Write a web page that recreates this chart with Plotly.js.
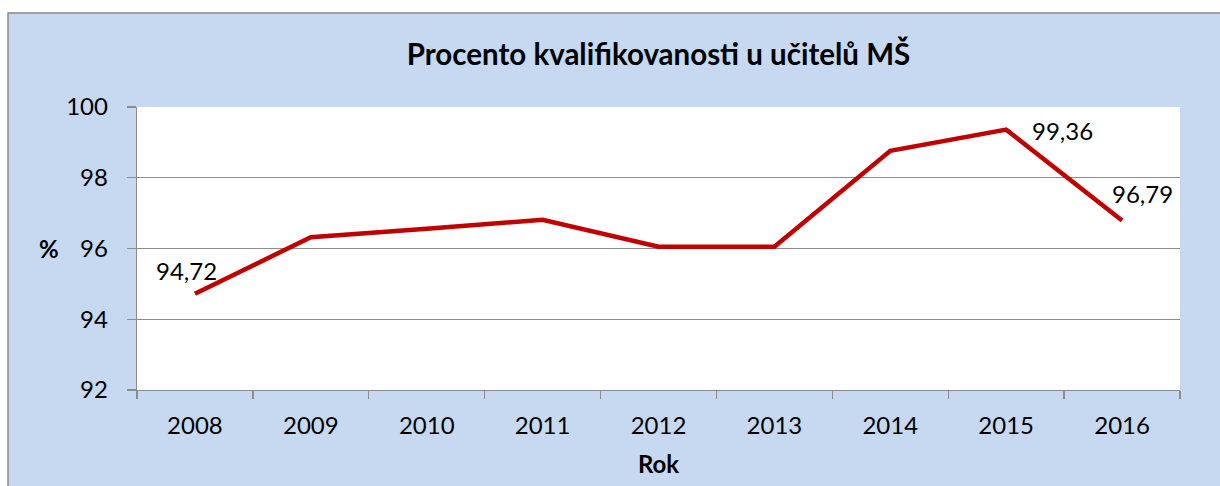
<!DOCTYPE html>
<html>
<head>
<meta charset="utf-8">
<script src="https://cdn.plot.ly/plotly-3.0.1.min.js"></script>
<style>
  html, body { margin: 0; padding: 0; background: #ffffff; }
  #chart { width: 1220px; height: 486px; }
</style>
</head>
<body>
<div id="chart"></div>
<script>
// ---- data ----
const years = ['2008', '2009', '2010', '2011', '2012', '2013', '2014', '2015', '2016'];
const values = [94.72, 96.32, 96.56, 96.81, 96.05, 96.05, 98.76, 99.36, 96.79];
const labeledYears = ['2008', '2015', '2016'];
const yTicks = [92, 94, 96, 98, 100];
const chartTitle = 'Procento kvalifikovanosti u učitelů MŠ';
const xTitle = 'Rok';
const yTitle = '%';

// ---- style ----
const FONT = 'Lato, "Open Sans", sans-serif';
const BLUE = '#C6D9F0';
const GRID = '#8C8C8C';
const TICK_SIZE = 24;
const labelOffsets = {
  '2008': {xshift: -8, yshift: 23, xanchor: 'center'},
  '2015': {xshift: 24, yshift: -1, xanchor: 'left'},
  '2016': {xshift: 20, yshift: 27, xanchor: 'center'}
};

function fmt(v) { return v.toFixed(2).replace('.', ','); }

const annotations = labeledYears.map(function (yr) {
  const i = years.indexOf(yr);
  const o = labelOffsets[yr];
  return {
    x: i, y: values[i], xref: 'x', yref: 'y',
    text: fmt(values[i]), showarrow: false,
    xanchor: o.xanchor, yanchor: 'middle',
    xshift: o.xshift, yshift: o.yshift,
    font: {family: FONT, size: TICK_SIZE, color: '#000000'}
  };
});
annotations.push({
  text: '<b>' + yTitle + '</b>', xref: 'paper', yref: 'paper',
  x: -0.084, y: 0.5, showarrow: false, xanchor: 'center', yanchor: 'middle',
  font: {family: FONT, size: TICK_SIZE, color: '#000000'}
});

const trace = {
  x: years, y: values, type: 'scatter', mode: 'lines',
  line: {color: '#C00000', width: 4.5},
  hoverinfo: 'x+y'
};

const layout = {
  width: 1220, height: 486,
  margin: {l: 137, r: 40, t: 107, b: 96},
  paper_bgcolor: '#ffffff',
  plot_bgcolor: '#ffffff',
  showlegend: false,
  title: {
    text: '<b>' + chartTitle + '</b>',
    x: 0.5, xref: 'paper', xanchor: 'center',
    y: 1 - 55 / 486, yref: 'container', yanchor: 'middle',
    font: {family: FONT, size: 29.5, color: '#000000'}
  },
  xaxis: {
    type: 'category',
    categoryorder: 'array', categoryarray: years,
    range: [-0.5, years.length - 0.5],
    tickson: 'boundaries',
    tickangle: 0,
    ticks: 'outside', ticklen: 8, tickcolor: GRID, tickwidth: 1.3,
    showline: true, linecolor: GRID, linewidth: 1.3,
    showgrid: false, zeroline: false,
    ticklabelstandoff: 14,
    tickfont: {family: FONT, size: TICK_SIZE, color: '#000000'},
    title: {text: '<b>' + xTitle + '</b>', standoff: 18,
            font: {family: FONT, size: TICK_SIZE, color: '#000000'}},
    fixedrange: true
  },
  yaxis: {
    range: [92, 100],
    tickvals: yTicks, ticktext: yTicks.map(String),
    ticks: 'outside', ticklen: 9, tickcolor: GRID, tickwidth: 1.3,
    showline: true, linecolor: GRID, linewidth: 1.3,
    showgrid: true, gridcolor: GRID, gridwidth: 1.3,
    zeroline: false,
    ticklabelstandoff: 14,
    tickfont: {family: FONT, size: TICK_SIZE, color: '#000000'},
    fixedrange: true
  },
  shapes: [
    {type: 'rect', xref: 'paper', yref: 'paper', layer: 'below',
     x0: (8 - 137) / 1043, x1: (1240 - 137) / 1043,
     y0: (390 - 500) / 283, y1: (390 - 13) / 283,
     fillcolor: BLUE, line: {color: '#8a8a8a', width: 1.5}},
    {type: 'rect', xref: 'paper', yref: 'paper', layer: 'below',
     x0: 0, x1: 1, y0: 0, y1: 1,
     fillcolor: '#ffffff', line: {width: 0}}
  ],
  annotations: annotations
};

Plotly.newPlot('chart', [trace], layout, {displayModeBar: false, staticPlot: true});
</script>
</body>
</html>
